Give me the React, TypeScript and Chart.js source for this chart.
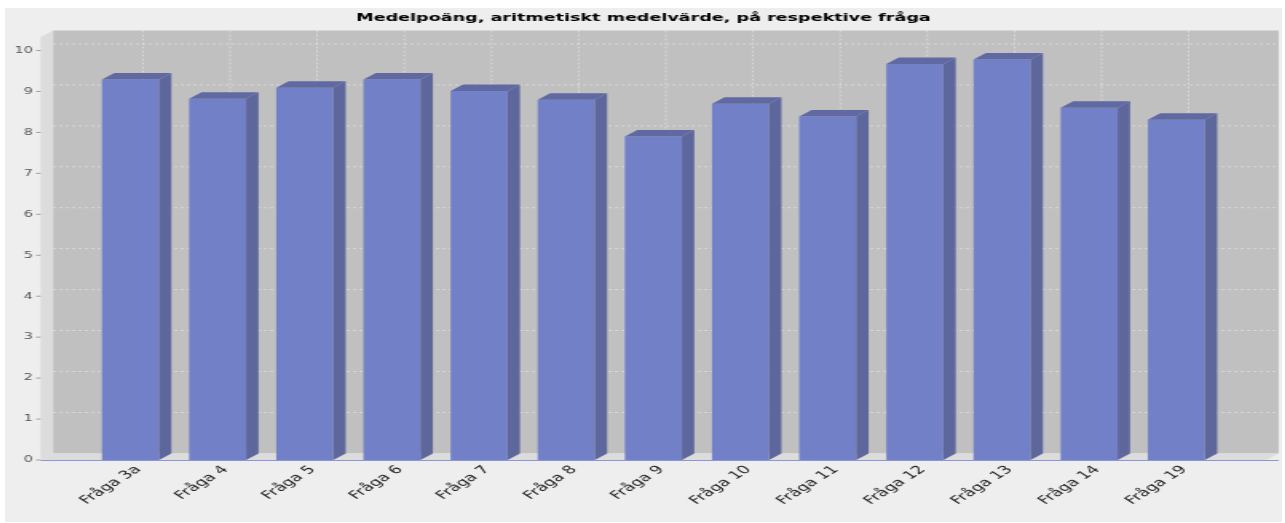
import { useEffect, useRef } from 'react';
import { Chart, registerables } from 'chart.js';

Chart.register(...registerables);

const chartTitle = 'Medelpoäng, aritmetiskt medelvärde, på respektive fråga';
const categories = [
  'Fråga 3a', 'Fråga 4', 'Fråga 5', 'Fråga 6', 'Fråga 7', 'Fråga 8', 'Fråga 9',
  'Fråga 10', 'Fråga 11', 'Fråga 12', 'Fråga 13', 'Fråga 14', 'Fråga 19',
];
const meanScores = [9.29, 8.82, 9.09, 9.29, 9.01, 8.8, 7.9, 8.7, 8.39, 9.67, 9.78, 8.6, 8.31];
const yTickValues = [0, 1, 2, 3, 4, 5, 6, 7, 8, 9, 10];
const yAxisMax = 10.33;

// drawing geometry (canvas units, canvas is stretched horizontally by CSS)
const CANVAS_W = 800;
const CANVAS_H = 514;
const DX = 7.8;
const DY = 6.5;
const PLANE_MARGIN = 29;
const LEFT_AXIS_W = 51.3;
const RIGHT_SPACE = 38.9;

const bar3d = {
  id: 'bar3d',
  beforeDatasetsDraw(chart: any) {
    const { ctx, chartArea: a, scales } = chart;
    const x = scales.x;
    const y = scales.y;
    const L = a.left - PLANE_MARGIN;
    const R = a.right + PLANE_MARGIN;
    const T = a.top;
    const B = a.bottom;
    const poly = (pts: number[][], fill: string) => {
      ctx.beginPath();
      ctx.moveTo(pts[0][0], pts[0][1]);
      for (let i = 1; i < pts.length; i++) ctx.lineTo(pts[i][0], pts[i][1]);
      ctx.closePath();
      ctx.fillStyle = fill;
      ctx.fill();
    };
    ctx.save();
    // back wall
    poly([[L + DX, T - DY], [R + DX, T - DY], [R + DX, B - DY], [L + DX, B - DY]], '#c0c0c0');
    // left wall
    poly([[L, B], [L, T], [L + DX, T - DY], [L + DX, B - DY]], '#dcdcdc');
    // floor
    poly([[L, B], [L + DX, B - DY], [R + DX, B - DY], [R, B]], '#dcdcdc');
    // gridlines on back wall
    ctx.strokeStyle = 'rgba(255,255,255,0.55)';
    ctx.lineWidth = 0.7;
    ctx.setLineDash([2, 2]);
    for (const v of yTickValues) {
      if (v === 0) continue;
      const py = y.getPixelForValue(v) - DY;
      ctx.beginPath();
      ctx.moveTo(L + DX, py);
      ctx.lineTo(R + DX, py);
      ctx.stroke();
    }
    for (let i = 0; i < categories.length; i++) {
      const px = x.getPixelForValue(i) + DX;
      ctx.beginPath();
      ctx.moveTo(px, T - DY);
      ctx.lineTo(px, B - DY);
      ctx.stroke();
    }
    ctx.restore();
  },
  afterDatasetsDraw(chart: any) {
    const { ctx, chartArea: a, scales } = chart;
    const y = scales.y;
    const L = a.left - PLANE_MARGIN;
    const R = a.right + PLANE_MARGIN;
    const B = a.bottom;
    ctx.save();
    const meta = chart.getDatasetMeta(0);
    meta.data.forEach((el: any) => {
      const p = el.getProps(['x', 'y', 'base', 'width'], true);
      const l = p.x - p.width / 2;
      const r = p.x + p.width / 2;
      const top = p.y;
      const bot = p.base;
      ctx.fillStyle = '#5e679c';
      // side face
      ctx.beginPath();
      ctx.moveTo(r, top);
      ctx.lineTo(r + DX, top - DY);
      ctx.lineTo(r + DX, bot - DY);
      ctx.lineTo(r, bot);
      ctx.closePath();
      ctx.fill();
      // top face
      ctx.fillStyle = '#6069a2';
      ctx.beginPath();
      ctx.moveTo(l, top);
      ctx.lineTo(l + DX, top - DY);
      ctx.lineTo(r + DX, top - DY);
      ctx.lineTo(r, top);
      ctx.closePath();
      ctx.fill();
    });
    // category axis line
    ctx.strokeStyle = 'rgba(130,140,215,0.9)';
    ctx.lineWidth = 1;
    ctx.beginPath();
    ctx.moveTo(L, B + 0.5);
    ctx.lineTo(R + DX, B + 0.5);
    ctx.stroke();
    // value axis tick marks
    ctx.strokeStyle = '#888888';
    ctx.lineWidth = 0.8;
    for (const v of yTickValues) {
      const py = y.getPixelForValue(v);
      ctx.beginPath();
      ctx.moveTo(L - 2.8, py);
      ctx.lineTo(L, py);
      ctx.stroke();
    }
    ctx.restore();
  },
};

export default function App() {
  const ref = useRef<HTMLCanvasElement | null>(null);
  useEffect(() => {
    if (!ref.current) return;
    const chart = new Chart(ref.current, {
      type: 'bar',
      data: {
        labels: categories,
        datasets: [
          {
            label: 'Medelpoäng',
            data: meanScores,
            backgroundColor: '#7280c8',
            borderWidth: 0,
            categoryPercentage: 1,
            barPercentage: 0.654,
            yAxisID: 'y',
          },
        ],
      },
      options: {
        responsive: false,
        animation: false,
        devicePixelRatio: 1,
        layout: { padding: 0 },
        plugins: {
          legend: { display: false },
          tooltip: { enabled: false },
          title: {
            display: true,
            text: chartTitle,
            color: '#000000',
            font: { family: 'DejaVu Sans', size: 11, weight: 'bold', lineHeight: 1.2 },
            padding: { top: 4, bottom: 11.8 },
          },
        },
        scales: {
          x: {
            type: 'category',
            offset: true,
            grid: { display: false, drawTicks: false },
            border: { display: false },
            afterFit: (s: any) => {
              s.height = 62;
            },
            ticks: {
              autoSkip: false,
              minRotation: 45,
              maxRotation: 45,
              padding: 3,
              labelOffset: 5,
              color: '#222222',
              font: { family: 'DejaVu Sans', size: 11.3 },
            },
          },
          y: {
            type: 'linear',
            position: 'left',
            min: 0,
            max: yAxisMax,
            grid: { display: false, drawTicks: false },
            border: { display: false },
            afterFit: (s: any) => {
              s.width = LEFT_AXIS_W;
              s.paddingTop = 0;
              s.paddingBottom = 0;
            },
            afterBuildTicks: (s: any) => {
              s.ticks = yTickValues.map((v) => ({ value: v }));
            },
            ticks: {
              padding: 33.8,
              color: '#555555',
              font: { family: 'DejaVu Sans', size: 9 },
            },
          },
          yRightSpace: {
            type: 'linear',
            position: 'right',
            display: true,
            grid: { display: false, drawTicks: false },
            border: { display: false },
            ticks: { display: false },
            afterFit: (s: any) => {
              s.width = RIGHT_SPACE;
              s.paddingTop = 0;
              s.paddingBottom = 0;
            },
          },
        },
      },
      plugins: [bar3d],
    });
    return () => chart.destroy();
  }, []);
  return (
    <div style={{ position: 'absolute', left: 5, top: 8 }}>
      <canvas
        ref={ref}
        width={CANVAS_W}
        height={CANVAS_H}
        style={{ display: 'block', width: '1277px', height: '514px', background: '#eeeeee' }}
      />
    </div>
  );
}
